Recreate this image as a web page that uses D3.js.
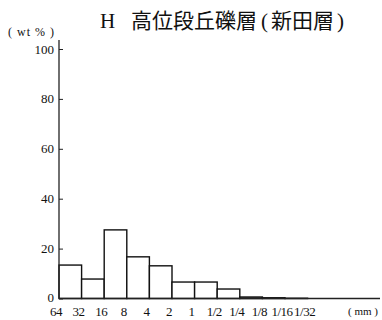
<!DOCTYPE html>
<html>
<head>
<meta charset="utf-8">
<script src="https://cdn.jsdelivr.net/npm/d3@7"></script>
<style>
  body { margin: 0; background: #fff; }
  text { font-family: "Liberation Serif", "DejaVu Serif", "Noto Sans CJK JP", serif; fill: #111; }
</style>
</head>
<body>
<svg id="chart" width="382" height="320"></svg>
<script>
// 粒径区分（mm）
const sizeLabels = ['64', '32', '16', '8', '4', '2', '1', '1/2', '1/4', '1/8', '1/16', '1/32'];
// 各区間の重量％
const wtValues = [13.4, 7.8, 27.5, 16.7, 13.1, 6.6, 6.6, 3.8, 0.6, 0.3, 0.1];
const yTicks = [0, 20, 40, 60, 80, 100];

const svg = d3.select('#chart');
const x0 = 59, baseY = 298.5;

const x = d3.scaleLinear().domain([0, sizeLabels.length - 1]).range([x0, x0 + 22.6 * (sizeLabels.length - 1)]);
const y = d3.scaleLinear().domain([0, 100]).range([baseY, 49]);

/*棒*/
svg.append('g').selectAll('rect')
  .data(wtValues)
  .enter()
  .append('rect')
  .attr('x', (d, i) => x(i))
  .attr('y', d => y(d))
  .attr('width', (d, i) => x(i + 1) - x(i))
  .attr('height', d => baseY - y(d))
  .attr('fill', '#fff')
  .attr('stroke', '#111')
  .attr('stroke-width', 1.4);

/*軸*/
svg.append('line')
  .attr('x1', x0).attr('x2', x0).attr('y1', 40).attr('y2', baseY)
  .attr('stroke', '#222').attr('stroke-width', 1.3);
svg.append('line')
  .attr('x1', x0).attr('x2', 380).attr('y1', baseY).attr('y2', baseY)
  .attr('stroke', '#222').attr('stroke-width', 1.5);

let yAxis = svg.append('g').attr('transform', `translate(${x0},0)`)
  .call(d3.axisRight(y).tickValues(yTicks).tickSize(4).tickFormat(''));
yAxis.select('.domain').remove();
yAxis.selectAll('line').attr('stroke', '#222');

svg.append('g').selectAll('text')
  .data(yTicks)
  .enter()
  .append('text')
  .attr('x', 54)
  .attr('y', d => y(d))
  .attr('dy', d => d === 0 ? '0.25em' : '0.35em')
  .attr('text-anchor', 'end')
  .style('font-size', '13px')
  .text(d => d);

svg.append('g').selectAll('text')
  .data(sizeLabels)
  .enter()
  .append('text')
  .attr('x', (d, i) => x(i) - 3)
  .attr('y', 316)
  .attr('text-anchor', 'middle')
  .style('font-size', '13px')
  .style('letter-spacing', '-0.5px')
  .text(d => d);

svg.append('text')
  .attr('x', 378).attr('y', 315)
  .attr('text-anchor', 'end')
  .style('font-size', '11px')
  .text('( mm )');

svg.append('text')
  .attr('x', 8).attr('y', 36)
  .style('font-size', '12px')
  .style('letter-spacing', '1px')
  .text('( wt % )');

/*タイトル*/
let title = svg.append('text')
  .attr('x', 100).attr('y', 28)
  .style('font-size', '21px');
title.append('tspan').text('H');
title.append('tspan').attr('x', 131).text('高位段丘礫層');
title.append('tspan').attr('dx', 4).style('font-family', 'Liberation Serif').text('(');
title.append('tspan').attr('dx', 3).text('新田層');
title.append('tspan').attr('dx', 3).style('font-family', 'Liberation Serif').text(')');
</script>
</body>
</html>
